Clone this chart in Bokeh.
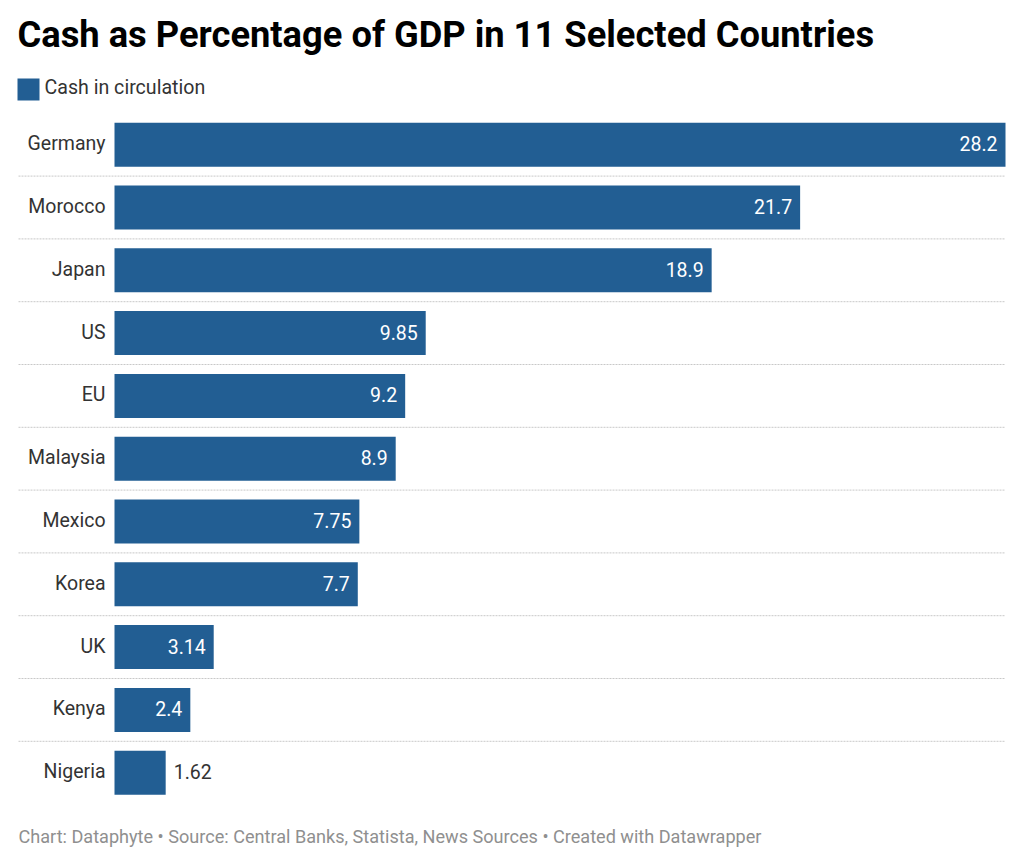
from bokeh.plotting import figure
from bokeh.models import Range1d, ColumnDataSource, Label
from bokeh.core.properties import value
from bokeh.embed import file_html
from bokeh.resources import INLINE

countries = ["Germany", "Morocco", "Japan", "US", "EU", "Malaysia", "Mexico", "Korea", "UK", "Kenya", "Nigeria"]
cash_pct = [28.2, 21.7, 18.9, 9.85, 9.2, 8.9, 7.75, 7.7, 3.14, 2.4, 1.62]
value_labels = ["28.2", "21.7", "18.9", "9.85", "9.2", "8.9", "7.75", "7.7", "3.14", "2.4", "1.62"]

title_text = "Cash as Percentage of GDP in 11 Selected Countries"
legend_text = "Cash in circulation"
footer_text = "Chart: Dataphyte \u2022 Source: Central Banks, Statista, News Sources \u2022 Created with Datawrapper"

W, H = 1024, 867
BAR_COLOR = "#225e93"
FONT = "Roboto"

# pixel layout
X_ZERO_PX = 114
X_MAX_PX = 1005
ROW0_PX = 144.2
ROW_STEP = 62.8

k = (X_MAX_PX - X_ZERO_PX) / max(cash_pct)
x_start = -X_ZERO_PX / k
x_end = (W - X_ZERO_PX) / k
y_top = -ROW0_PX / ROW_STEP
y_bottom = (H - ROW0_PX) / ROW_STEP


def px2x(px):
    return (px - X_ZERO_PX) / k


def px2y(py):
    return (py - ROW0_PX) / ROW_STEP


p = figure(width=W, height=H, x_range=Range1d(x_start, x_end), y_range=Range1d(y_bottom, y_top),
           output_backend="svg", toolbar_location=None, min_border=0,
           x_axis_type=None, y_axis_type=None)
p.outline_line_color = None
p.grid.visible = False
p.background_fill_color = "white"
p.border_fill_color = "white"

rows = list(range(len(countries)))

# separators
sep_y = [i + 0.5 for i in rows[:-1]]
p.segment(x0=[px2x(18)] * len(sep_y), x1=[px2x(X_MAX_PX)] * len(sep_y), y0=sep_y, y1=sep_y,
          line_color="#c8c8c8", line_width=1, line_dash="2 1")

src = ColumnDataSource(dict(y=rows, v=cash_pct, c=countries, lab=value_labels))
p.hbar(y="y", right="v", left=0, height=0.70, source=src, fill_color=BAR_COLOR, line_color=None)

label_y = [r - 1.0 / ROW_STEP for r in rows]

# country labels
p.text(x=[px2x(105)] * len(rows), y=label_y, text=countries, text_align="right", text_baseline="middle",
       text_font=value(FONT), text_font_size="19.5px", text_color="#333333")

# value labels
inside_y, inside_x, inside_t = [], [], []
out_y, out_x, out_t = [], [], []
for i, (v, t) in enumerate(zip(cash_pct, value_labels)):
    if v * k > 60:
        inside_y.append(label_y[i]); inside_x.append(v - 8 / k); inside_t.append(t)
    else:
        out_y.append(label_y[i]); out_x.append(v + 8 / k); out_t.append(t)
p.text(x=inside_x, y=inside_y, text=inside_t, text_align="right", text_baseline="middle",
       text_font=value(FONT), text_font_size="19.5px", text_color="white")
p.text(x=out_x, y=out_y, text=out_t, text_align="left", text_baseline="middle",
       text_font=value(FONT), text_font_size="19.5px", text_color="#333333")

# title
p.add_layout(Label(x=px2x(17), y=px2y(34), text=title_text, text_font=FONT, text_font_size="36.3px",
                   text_font_style="bold", text_color="#000000", text_baseline="middle"))

# legend
p.quad(left=[px2x(17)], right=[px2x(39)], top=[px2y(78)], bottom=[px2y(100)],
       fill_color=BAR_COLOR, line_color=None)
p.add_layout(Label(x=px2x(44), y=px2y(87), text=legend_text, text_font=FONT, text_font_size="19.6px",
                   text_color="#333333", text_baseline="middle"))

# footer
p.add_layout(Label(x=px2x(18), y=px2y(836), text=footer_text, text_font=FONT, text_font_size="18.1px",
                   text_color="#8f8f8f", text_baseline="middle"))

open("out.html", "w").write(file_html(p, INLINE))
